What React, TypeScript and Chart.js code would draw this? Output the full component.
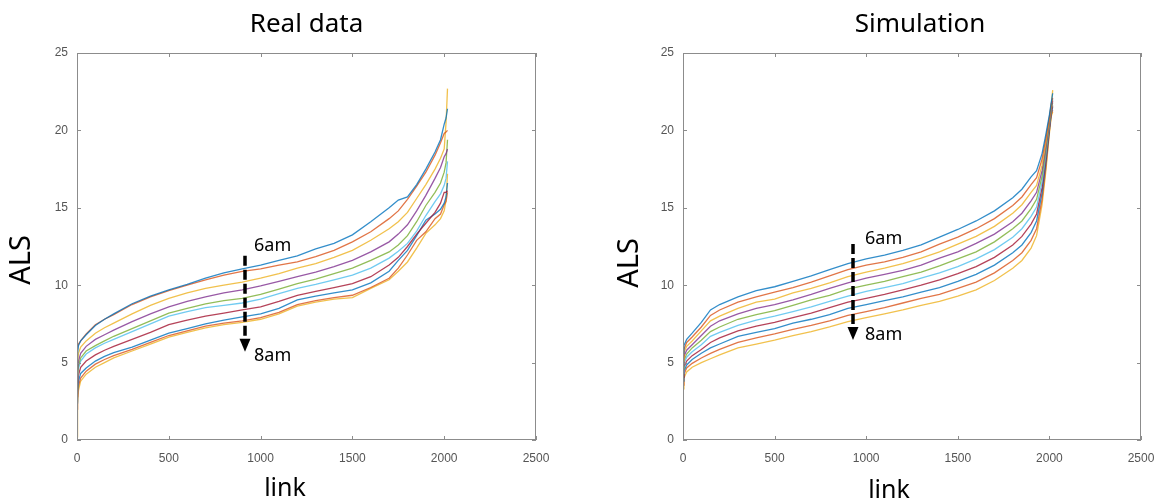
import { useEffect, useRef } from "react";
import { Chart, registerables } from "chart.js";

Chart.register(...registerables);

// Sorted average link speed (ALS) per link, ten snapshots from 6am to 8am.
const LINKS_REAL = [1, 3, 8, 20, 50, 100, 150, 200, 300, 400, 500, 600, 700, 800, 900, 1000, 1100, 1200, 1300, 1400, 1500, 1600, 1700, 1750, 1800, 1850, 1900, 1950, 1980, 2000, 2010, 2018];

const REAL_T1 = [4.6, 5.6, 6.1, 6.4, 6.8, 7.4, 7.8, 8.15, 8.8, 9.3, 9.7, 10.05, 10.45, 10.8, 11.05, 11.3, 11.6, 11.9, 12.35, 12.7, 13.25, 14.1, 15.0, 15.5, 15.7, 16.5, 17.5, 18.6, 19.4, 20.4, 20.8, 21.4];
const REAL_T2 = [5.9, 6.0, 6.2, 6.4, 6.85, 7.45, 7.8, 8.1, 8.75, 9.25, 9.65, 10.0, 10.35, 10.65, 10.9, 11.05, 11.3, 11.5, 11.85, 12.25, 12.8, 13.45, 14.3, 14.8, 15.55, 16.4, 17.3, 18.4, 19.2, 19.8, 19.9, 20.0];
const REAL_T3 = [4.2, 5.0, 5.6, 6.0, 6.4, 6.9, 7.25, 7.55, 8.15, 8.7, 9.15, 9.5, 9.8, 10.0, 10.2, 10.45, 10.75, 11.1, 11.4, 11.8, 12.25, 12.9, 13.65, 14.1, 14.7, 15.6, 16.5, 17.5, 18.2, 18.8, 20.5, 22.7];
const REAL_T4 = [3.6, 4.5, 5.1, 5.6, 6.05, 6.5, 6.8, 7.1, 7.65, 8.15, 8.6, 8.95, 9.25, 9.5, 9.7, 9.95, 10.25, 10.55, 10.85, 11.2, 11.6, 12.15, 12.8, 13.3, 13.9, 14.8, 15.8, 16.9, 17.6, 18.3, 18.5, 18.8];
const REAL_T5 = [3.3, 4.2, 4.8, 5.3, 5.75, 6.1, 6.4, 6.7, 7.2, 7.7, 8.2, 8.5, 8.8, 9.0, 9.15, 9.4, 9.75, 10.1, 10.4, 10.75, 11.1, 11.6, 12.15, 12.6, 13.2, 14.1, 15.15, 16.0, 16.6, 17.3, 17.9, 19.4];
const REAL_T6 = [3.1, 4.0, 4.6, 5.1, 5.55, 5.95, 6.25, 6.5, 7.0, 7.5, 8.0, 8.3, 8.55, 8.7, 8.85, 9.1, 9.45, 9.8, 10.05, 10.35, 10.65, 11.1, 11.75, 12.2, 12.7, 13.5, 14.5, 15.4, 15.9, 16.45, 16.9, 18.0];
const REAL_T7 = [2.8, 3.6, 4.2, 4.7, 5.1, 5.5, 5.8, 6.05, 6.5, 6.95, 7.45, 7.75, 8.0, 8.2, 8.4, 8.6, 8.95, 9.35, 9.6, 9.85, 10.1, 10.55, 11.3, 11.8, 12.5, 13.3, 14.0, 14.7, 15.3, 16.0, 16.0, 16.1];
const REAL_T8 = [2.4, 3.2, 3.8, 4.3, 4.65, 5.1, 5.4, 5.65, 6.0, 6.45, 6.9, 7.2, 7.5, 7.75, 7.95, 8.15, 8.5, 9.05, 9.3, 9.5, 9.7, 10.15, 10.9, 11.6, 12.25, 13.2, 14.2, 14.6, 14.9, 15.3, 15.7, 16.6];
const REAL_T9 = [2.0, 2.9, 3.5, 4.0, 4.45, 4.9, 5.2, 5.45, 5.85, 6.3, 6.75, 7.05, 7.35, 7.55, 7.7, 7.9, 8.25, 8.75, 9.0, 9.2, 9.35, 9.85, 10.45, 11.1, 11.95, 12.9, 13.45, 14.3, 14.6, 15.2, 15.4, 16.0];
const REAL_T10 = [0.2, 2.4, 3.2, 3.8, 4.25, 4.7, 5.0, 5.3, 5.75, 6.2, 6.65, 6.95, 7.25, 7.45, 7.6, 7.8, 8.15, 8.65, 8.9, 9.1, 9.2, 9.8, 10.35, 10.9, 11.5, 12.4, 13.35, 13.9, 14.3, 14.8, 15.5, 17.2];

const LINKS_SIM = [1, 5, 20, 50, 100, 150, 200, 300, 400, 500, 600, 700, 800, 900, 1000, 1100, 1200, 1300, 1400, 1500, 1600, 1700, 1800, 1850, 1900, 1930, 1960, 1980, 2000, 2010, 2018];

const SIM_T1 = [5.6, 6.1, 6.5, 6.9, 7.6, 8.4, 8.75, 9.25, 9.65, 9.9, 10.25, 10.6, 11.0, 11.4, 11.7, 11.95, 12.25, 12.6, 13.1, 13.6, 14.15, 14.8, 15.65, 16.2, 17.0, 17.4, 18.5, 19.7, 21.0, 21.8, 22.4];
const SIM_T2 = [5.35, 5.85, 6.3, 6.65, 7.3, 8.05, 8.4, 8.9, 9.25, 9.55, 9.85, 10.2, 10.6, 11.0, 11.3, 11.5, 11.8, 12.15, 12.65, 13.1, 13.65, 14.3, 15.15, 15.7, 16.5, 16.95, 18.15, 19.45, 20.85, 21.7, 22.1];
const SIM_T3 = [5.1, 5.65, 6.05, 6.4, 7.05, 7.7, 8.0, 8.5, 8.9, 9.1, 9.5, 9.8, 10.15, 10.55, 10.85, 11.1, 11.4, 11.75, 12.15, 12.65, 13.15, 13.8, 14.65, 15.2, 16.0, 16.45, 17.75, 19.15, 20.75, 21.6, 22.6];
const SIM_T4 = [4.85, 5.4, 5.8, 6.15, 6.75, 7.35, 7.7, 8.15, 8.5, 8.75, 9.05, 9.4, 9.8, 10.15, 10.45, 10.7, 10.95, 11.3, 11.75, 12.15, 12.7, 13.3, 14.1, 14.65, 15.45, 16.0, 17.4, 18.9, 20.6, 21.5, 21.9];
const SIM_T5 = [4.6, 5.15, 5.55, 5.95, 6.45, 7.0, 7.3, 7.8, 8.1, 8.35, 8.7, 9.05, 9.35, 9.75, 10.0, 10.25, 10.55, 10.85, 11.25, 11.7, 12.15, 12.8, 13.65, 14.15, 14.95, 15.55, 17.05, 18.65, 20.45, 21.4, 21.8];
const SIM_T6 = [4.3, 4.95, 5.35, 5.7, 6.15, 6.7, 6.95, 7.4, 7.75, 8.0, 8.3, 8.6, 8.95, 9.3, 9.6, 9.85, 10.1, 10.45, 10.8, 11.2, 11.7, 12.3, 13.1, 13.65, 14.45, 15.05, 16.65, 18.35, 20.35, 21.3, 22.0];
const SIM_T7 = [4.05, 4.7, 5.1, 5.45, 5.85, 6.3, 6.6, 7.05, 7.35, 7.6, 7.9, 8.2, 8.55, 8.9, 9.15, 9.4, 9.7, 10.0, 10.35, 10.75, 11.2, 11.8, 12.6, 13.15, 13.95, 14.6, 16.3, 18.1, 20.2, 21.2, 21.6];
const SIM_T8 = [3.8, 4.45, 4.85, 5.2, 5.6, 5.95, 6.2, 6.7, 6.95, 7.2, 7.55, 7.8, 8.1, 8.5, 8.75, 9.0, 9.25, 9.55, 9.85, 10.25, 10.7, 11.3, 12.1, 12.6, 13.4, 14.15, 15.95, 17.85, 20.05, 21.1, 21.5];
const SIM_T9 = [3.55, 4.25, 4.65, 4.95, 5.3, 5.6, 5.85, 6.3, 6.6, 6.85, 7.15, 7.4, 7.7, 8.05, 8.3, 8.55, 8.85, 9.15, 9.4, 9.8, 10.2, 10.8, 11.6, 12.1, 12.9, 13.65, 15.55, 17.55, 19.95, 21.0, 21.3];
const SIM_T10 = [3.3, 4.0, 4.4, 4.7, 5.0, 5.25, 5.5, 5.95, 6.2, 6.45, 6.75, 7.0, 7.3, 7.65, 7.9, 8.15, 8.4, 8.7, 8.95, 9.3, 9.7, 10.3, 11.1, 11.6, 12.4, 13.2, 15.2, 17.3, 19.8, 20.9, 21.2];

const REAL_CURVES = [REAL_T1, REAL_T2, REAL_T3, REAL_T4, REAL_T5, REAL_T6, REAL_T7, REAL_T8, REAL_T9, REAL_T10];
const SIM_CURVES = [SIM_T1, SIM_T2, SIM_T3, SIM_T4, SIM_T5, SIM_T6, SIM_T7, SIM_T8, SIM_T9, SIM_T10];

const X_TICKS = [0, 500, 1000, 1500, 2000, 2500];
const Y_TICKS = [0, 5, 10, 15, 20, 25];

// Time-direction arrow: link position, start and end ALS value
const REAL_ARROW = { link: 915, from: 11.9, to: 5.7 };
const SIM_ARROW = { link: 928, from: 12.66, to: 6.46 };

const LINE_COLORS = [
  "rgba(0,114,189,0.8)",
  "rgba(217,83,25,0.8)",
  "rgba(237,177,32,0.8)",
  "rgba(126,47,142,0.8)",
  "rgba(119,172,48,0.8)",
  "rgba(77,190,238,0.8)",
  "rgba(162,20,47,0.8)",
];

const FRAME = "#8c8c8c";
const TEXT_FONT = '"Noto Sans", "Open Sans", sans-serif';
const TICK_FONT = '"Liberation Sans", Arial, sans-serif';

type PanelProps = {
  left: number;
  title: string;
  titleShift: number;
  links: number[];
  curves: number[][];
  plotLeft: number;
  plotRight: number;
  arrow: { link: number; from: number; to: number };
  topLabel: { dx: number; dy: number };
  bottomLabel: { dx: number; dy: number };
  yLabelX: number;
  yLabelY: number;
  xLabelX: number;
  xLabelY: number;
};

const W = 584;
const H = 504;
const PLOT_TOP = 53;
const PLOT_BOTTOM = 440;

function Panel(p: PanelProps) {
  const ref = useRef<HTMLCanvasElement | null>(null);

  useEffect(() => {
    if (!ref.current) return;

    const notes = {
      id: "frameAndNotes",
      afterDraw(chart: Chart) {
        const ctx = chart.ctx;
        const a = chart.chartArea;
        const xs = chart.scales.x;
        const ys = chart.scales.y;
        ctx.save();

        // axes box with inward ticks on all sides
        ctx.strokeStyle = FRAME;
        ctx.lineWidth = 1;
        ctx.strokeRect(a.left + 0.5, a.top + 0.5, a.right - a.left - 1, a.bottom - a.top - 1);
        ctx.beginPath();
        const tl = 4;
        for (const v of X_TICKS) {
          const px = Math.round(xs.getPixelForValue(v)) + 0.5;
          ctx.moveTo(px, a.bottom);
          ctx.lineTo(px, a.bottom - tl);
          ctx.moveTo(px, a.top);
          ctx.lineTo(px, a.top + tl);
        }
        for (const v of Y_TICKS) {
          const py = Math.round(ys.getPixelForValue(v)) + 0.5;
          ctx.moveTo(a.left, py);
          ctx.lineTo(a.left + tl, py);
          ctx.moveTo(a.right, py);
          ctx.lineTo(a.right - tl, py);
        }
        ctx.stroke();

        // title
        ctx.fillStyle = "#000";
        ctx.textAlign = "center";
        ctx.textBaseline = "alphabetic";
        ctx.font = `26px ${TEXT_FONT}`;
        ctx.fillText(p.title, (a.left + a.right) / 2 + p.titleShift, 32);

        // axis titles
        ctx.font = `25px ${TEXT_FONT}`;
        ctx.textBaseline = "middle";
        ctx.fillText("link", p.xLabelX, p.xLabelY);
        ctx.save();
        ctx.translate(p.yLabelX, p.yLabelY);
        ctx.rotate(-Math.PI / 2);
        ctx.font = `29px ${TEXT_FONT}`;
        ctx.fillText("ALS", 0, 0);
        ctx.restore();

        // dashed arrow from 6am to 8am
        const ax = Math.round(xs.getPixelForValue(p.arrow.link));
        const y0 = ys.getPixelForValue(p.arrow.from);
        const y1 = ys.getPixelForValue(p.arrow.to);
        ctx.strokeStyle = "#000";
        ctx.lineWidth = 3.5;
        ctx.setLineDash([10, 4]);
        ctx.beginPath();
        ctx.moveTo(ax, y0);
        ctx.lineTo(ax, y1 - 12);
        ctx.stroke();
        ctx.setLineDash([]);
        ctx.fillStyle = "#000";
        ctx.beginPath();
        ctx.moveTo(ax - 5.5, y1 - 13);
        ctx.lineTo(ax + 5.5, y1 - 13);
        ctx.lineTo(ax, y1);
        ctx.closePath();
        ctx.fill();

        ctx.font = `18px ${TEXT_FONT}`;
        ctx.textAlign = "left";
        ctx.textBaseline = "alphabetic";
        ctx.fillText("6am", ax + p.topLabel.dx, y0 + p.topLabel.dy);
        ctx.fillText("8am", ax + p.bottomLabel.dx, y1 + p.bottomLabel.dy);

        ctx.restore();
      },
    };

    const datasets = p.curves.map((c, i) => ({
      label: `t${i + 1}`,
      data: p.links.map((x, j) => ({ x, y: c[j] })),
      borderColor: LINE_COLORS[i % LINE_COLORS.length],
      borderWidth: 1.3,
      pointRadius: 0,
      tension: 0,
      fill: false,
    }));

    const chart = new Chart(ref.current, {
      type: "line",
      data: { datasets },
      options: {
        animation: false,
        responsive: false,
        maintainAspectRatio: false,
        events: [],
        layout: { padding: { left: 0, right: W - p.plotRight, top: PLOT_TOP, bottom: 0 } },
        plugins: {
          legend: { display: false },
          tooltip: { enabled: false },
          title: { display: false },
        },
        scales: {
          x: {
            type: "linear",
            min: 0,
            max: 2500,
            afterBuildTicks: (s: any) => {
              s.ticks = X_TICKS.map((v) => ({ value: v }));
            },
            afterFit: (s: any) => {
              s.height = H - PLOT_BOTTOM;
            },
            grid: { display: false, drawTicks: false },
            border: { display: false },
            ticks: {
              padding: 11,
              color: "#555",
              maxRotation: 0,
              autoSkip: false,
              font: { family: TICK_FONT, size: 12 },
              callback: (v: any) => String(v),
            },
          },
          y: {
            type: "linear",
            min: 0,
            max: 25,
            afterBuildTicks: (s: any) => {
              s.ticks = Y_TICKS.map((v) => ({ value: v }));
            },
            afterFit: (s: any) => {
              s.width = p.plotLeft;
            },
            grid: { display: false, drawTicks: false },
            border: { display: false },
            ticks: {
              padding: 9,
              color: "#555",
              autoSkip: false,
              font: { family: TICK_FONT, size: 12 },
              callback: (v: any) => String(v),
            },
          },
        },
      },
      plugins: [notes],
    });

    return () => chart.destroy();
  }, []);

  return (
    <canvas
      ref={ref}
      width={W}
      height={H}
      style={{ position: "absolute", left: p.left, top: 0, width: W, height: H }}
    />
  );
}

export default function App() {
  return (
    <div style={{ position: "absolute", left: 0, top: 0, width: 1168, height: 504, background: "#fff" }}>
      <Panel
        left={0}
        title="Real data"
        titleShift={0}
        links={LINKS_REAL}
        curves={REAL_CURVES}
        plotLeft={77}
        plotRight={536}
        arrow={REAL_ARROW}
        topLabel={{ dx: 9, dy: -5 }}
        bottomLabel={{ dx: 9, dy: 9 }}
        yLabelX={22}
        yLabelY={260}
        xLabelX={285}
        xLabelY={489}
      />
      <Panel
        left={584}
        title="Simulation"
        titleShift={8}
        links={LINKS_SIM}
        curves={SIM_CURVES}
        plotLeft={99}
        plotRight={557}
        arrow={SIM_ARROW}
        topLabel={{ dx: 12, dy: 0 }}
        bottomLabel={{ dx: 12, dy: 0 }}
        yLabelX={46}
        yLabelY={263}
        xLabelX={305}
        xLabelY={491}
      />
    </div>
  );
}
